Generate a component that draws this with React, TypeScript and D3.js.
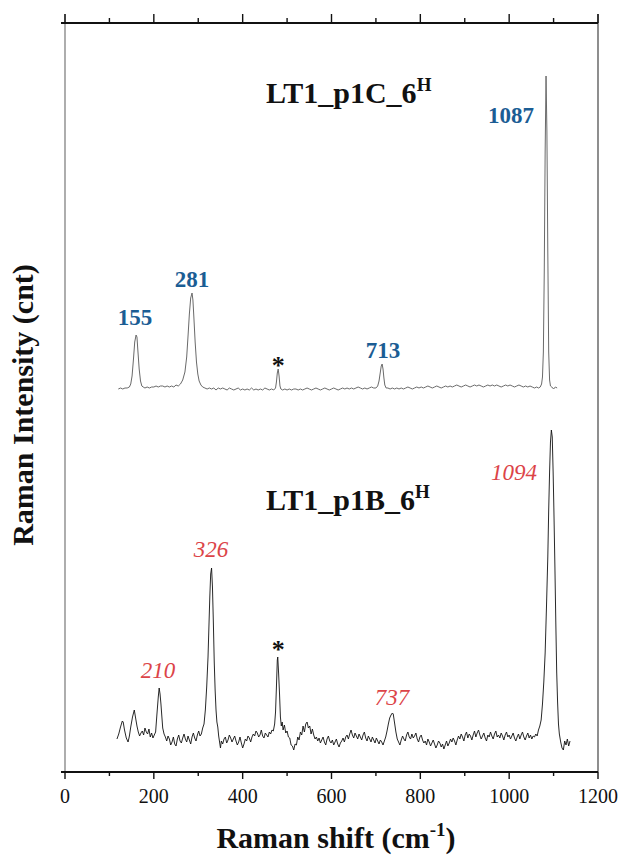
import React from "react";
import * as d3 from "d3";

// ---------- data ----------
const majorTicks = [0, 200, 400, 600, 800, 1000, 1200];
const minorTicks = [100, 300, 500, 700, 900, 1100];

// Top spectrum: LT1_p1C_6H (arbitrary intensity, offset)
const topShift = [120,125,130,135,140,145,148,151,154,157,160,162,164,167,170,173,176,180,185,190,195,200,205,210,215,220,225,230,235,240,245,250,255,260,265,270,274,277,280,283,286,288,290,293,296,299,302,306,310,315,320,325,330,335,340,345,350,355,360,365,370,375,380,385,390,395,400,405,410,415,420,425,430,435,440,445,450,455,460,465,470,474,476,478,480,482,484,486,490,495,500,505,510,515,520,525,530,535,540,545,550,555,560,565,570,575,580,585,590,595,600,605,610,615,620,625,630,635,640,645,650,655,660,665,670,675,680,685,690,695,700,704,707,710,712,714,716,718,720,723,727,732,737,742,747,752,757,762,767,772,777,782,787,792,797,802,807,812,817,822,827,832,837,842,847,852,857,862,867,872,877,882,887,892,897,902,907,912,917,922,927,932,937,942,947,952,957,962,967,972,977,982,987,992,997,1002,1007,1012,1017,1022,1027,1032,1037,1042,1047,1052,1057,1062,1066,1070,1073,1075,1077,1079,1081,1083,1085,1087,1089,1091,1093,1096,1100,1104,1108];
const topIntensity = [383,384,383,384,384,385,388,396,412,430,437,435,422,403,391,386,385,384,385,384,385,385,386,385,386,386,385,386,385,386,385,387,386,388,392,400,415,436,458,474,479,472,456,430,410,398,391,387,385,384,383,384,383,384,382,384,383,384,383,382,384,383,382,383,384,382,383,382,383,382,384,382,383,382,383,382,384,383,382,383,382,384,390,399,403,396,386,383,382,383,382,383,382,383,383,382,383,382,383,384,383,382,383,384,383,382,383,384,383,382,383,384,383,382,383,384,383,384,383,384,383,384,385,384,383,384,383,384,385,384,384,386,391,400,406,408,403,394,387,384,384,383,384,383,384,383,384,383,384,385,384,383,384,385,384,385,384,385,386,385,384,385,386,385,384,385,386,385,386,385,386,387,386,385,386,387,386,385,386,387,386,387,386,385,386,387,386,387,386,387,386,385,386,387,386,387,386,385,386,387,386,385,386,385,386,385,384,385,384,385,388,395,420,500,620,696,640,520,420,392,386,385,383,385,384];

// Bottom spectrum: LT1_p1B_6H
const bottomShift = [117,121,125,129,131,134,138,142,145,148,152,156,159,162,165,168,171,174,177,180,183,186,189,192,195,198,201,204,207,210,212,214,216,218,220,223,226,229,232,235,238,241,244,247,250,253,256,259,262,265,268,271,274,277,280,283,286,289,292,295,298,301,304,307,310,313,316,319,322,324,326,328,330,332,334,336,338,340,342,344,346,348,350,352,355,358,361,364,367,370,373,376,379,382,385,388,391,394,397,400,403,406,409,412,415,418,421,424,427,430,433,436,439,442,445,448,451,454,457,460,463,466,469,472,474,476,478,479,481,483,485,487,489,491,494,497,500,503,506,509,512,515,518,521,524,527,530,533,536,539,542,545,548,551,554,557,560,563,566,569,572,575,578,581,584,587,590,593,596,599,602,605,608,611,614,617,620,623,626,629,632,635,638,641,644,647,650,653,656,659,662,665,668,671,674,677,680,683,686,689,692,695,698,701,704,707,710,713,716,719,722,725,728,731,734,737,739,741,743,745,748,751,754,757,760,763,766,769,772,775,778,781,784,787,790,793,796,799,802,805,808,811,814,817,820,823,826,829,832,835,838,841,844,847,850,853,856,859,862,865,868,871,874,877,880,883,886,889,892,895,898,901,904,907,910,913,916,919,922,925,928,931,934,937,940,943,946,949,952,955,958,961,964,967,970,973,976,979,982,985,988,991,994,997,1000,1003,1006,1009,1012,1015,1018,1021,1024,1027,1030,1033,1036,1039,1042,1045,1048,1051,1054,1057,1060,1063,1066,1069,1072,1075,1078,1081,1084,1087,1089,1091,1093,1095,1097,1099,1101,1103,1105,1107,1109,1111,1113,1116,1119,1122,1125,1128,1131,1134,1137];
const bottomIntensity = [
  33,38,45,51,50,42,34,30,36,45,55,62,54,46,
  40,36,39,41,37,44,40,38,43,35,39,34,37,40,
  58,75,84,78,68,56,44,
  38,35,31,36,33,27,30,35,28,26,33,37,31,29,34,38,33,30,36,32,28,35,39,34,31,37,41,36,38,44,48,
  62,85,115,145,175,198,204,185,150,110,82,62,50,45,36,30,24,
  31,28,33,35,29,32,37,34,30,33,36,31,27,30,35,29,24,28,33,31,36,34,30,35,38,36,41,39,35,37,42,36,34,39,37,35,40,38,42,41,
  48,60,85,112,115,98,78,55,46,
  50,42,47,39,41,35,34,27,26,22,28,27,35,32,40,37,46,40,48,50,44,46,38,43,
  37,33,35,31,34,29,32,35,30,27,33,36,31,29,32,27,30,33,28,25,29,
  31,34,30,35,37,33,38,42,37,34,39,36,33,38,35,32,37,40,34,31,36,33,30,35,32,29,34,31,28,32,30,27,31,35,
  41,48,54,57,59,58,52,46,40,
  33,30,27,32,36,33,31,37,40,35,33,38,34,36,39,33,30,35,37,32,29,
  31,27,33,30,26,29,32,28,24,27,31,29,25,28,23,27,31,26,29,33,30,
  34,31,27,32,36,33,38,35,31,37,40,34,38,36,32,37,41,35,39,42,37,
  33,36,39,34,31,37,35,40,36,33,38,41,35,37,34,39,36,32,37,40,35,
  37,33,36,39,34,31,35,38,33,37,40,35,32,36,39,34,37,33,36,35,38,
  36,42,46,52,68,90,119,165,215,
  262,300,330,342,335,300,255,205,150,100,70,48,38,
  30,24,22,31,27,33,26,31
];

const topLabels = ["155", "281", "713", "1087"];
const bottomLabels = ["210", "326", "737", "1094"];

// ---------- layout ----------
const W = 619, H = 859;
const left = 65, right = 598, top = 23, bottom = 772;

export default function App() {
  const x = d3.scaleLinear().domain([0, 1200]).range([left, right]);
  const y = d3.scaleLinear().domain([0, 749]).range([bottom, top]);

  const line = d3.line<[number, number]>().x(d => x(d[0])).y(d => y(d[1]));
  const topPath = line(topShift.map((s, i) => [s, topIntensity[i]] as [number, number])) || "";
  const botPath = line(bottomShift.map((s, i) => [s, bottomIntensity[i]] as [number, number])) || "";

  const serif = "'Liberation Serif', 'Times New Roman', serif";
  const blue = "#1b5d94";
  const red = "#dc4448";

  // label anchor positions (px) for peak labels
  const topLabelPos = [[135, 325], [192, 287], [383, 358], [511, 123]];
  const botLabelPos = [[158, 678], [211, 557], [392, 705], [514, 480]];

  return (
    <svg width={W} height={H} style={{ position: "absolute", left: 0, top: 0, background: "#fff" }}
      fontFamily={serif}>
      <rect x={0} y={0} width={W} height={H} fill="#fff" />
      {/* frame sides */}
      <line x1={left} x2={left} y1={top - 9} y2={bottom} stroke="#777" strokeWidth={1.2} />
      <line x1={right} x2={right} y1={top - 9} y2={bottom} stroke="#444" strokeWidth={1.2} />
      {/* top axis */}
      <line x1={left - 4} x2={right} y1={top} y2={top} stroke="#111" strokeWidth={1.8} />
      {majorTicks.map(t => (
        <line key={"tM" + t} x1={x(t)} x2={x(t)} y1={top} y2={top - 9} stroke="#111" strokeWidth={1.4} />
      ))}
      {minorTicks.map(t => (
        <line key={"tm" + t} x1={x(t)} x2={x(t)} y1={top} y2={top - 5} stroke="#111" strokeWidth={1.4} />
      ))}
      {/* bottom axis */}
      <line x1={left - 4} x2={right} y1={bottom} y2={bottom} stroke="#111" strokeWidth={1.8} />
      {majorTicks.map(t => (
        <line key={"bM" + t} x1={x(t)} x2={x(t)} y1={bottom} y2={bottom + 7} stroke="#111" strokeWidth={1.4} />
      ))}
      {minorTicks.map(t => (
        <line key={"bm" + t} x1={x(t)} x2={x(t)} y1={bottom} y2={bottom + 4} stroke="#111" strokeWidth={1.4} />
      ))}
      {majorTicks.map(t => (
        <text key={"lbl" + t} x={x(t)} y={803} fontSize={20} textAnchor="middle" fill="#111">{t}</text>
      ))}

      {/* spectra */}
      <path d={topPath} fill="none" stroke="#6a6a6a" strokeWidth={1} />
      <path d={botPath} fill="none" stroke="#111" strokeWidth={0.9} />

      {/* sample titles */}
      <text x={266} y={103} fontSize={30} fontWeight="bold" fill="#111">
        LT1_p1C_6<tspan fontSize={19} dy={-12}>H</tspan>
      </text>
      <text x={266} y={510} fontSize={30} fontWeight="bold" fill="#111">
        LT1_p1B_6<tspan fontSize={19} dy={-12}>H</tspan>
      </text>

      {/* peak labels */}
      {topLabels.map((l, i) => (
        <text key={"tl" + l} x={topLabelPos[i][0]} y={topLabelPos[i][1]} fontSize={23} fontWeight="bold"
          textAnchor="middle" fill={blue}>{l}</text>
      ))}
      {bottomLabels.map((l, i) => (
        <text key={"bl" + l} x={botLabelPos[i][0]} y={botLabelPos[i][1]} fontSize={23} fontStyle="italic"
          textAnchor="middle" fill={red}>{l}</text>
      ))}
      {/* asterisks */}
      <text x={x(480)} y={374} fontSize={26} fontWeight="bold" textAnchor="middle" fill="#111">*</text>
      <text x={x(480)} y={658} fontSize={26} fontWeight="bold" textAnchor="middle" fill="#111">*</text>

      {/* axis titles */}
      <text x={336} y={848} fontSize={30} fontWeight="bold" textAnchor="middle" fill="#111">
        Raman shift (cm<tspan fontSize={19} dy={-12}>-1</tspan><tspan dy={12}>)</tspan>
      </text>
      <text transform={`translate(33, 405) rotate(-90)`} fontSize={30} fontWeight="bold" textAnchor="middle" fill="#111">
        Raman Intensity (cnt)
      </text>
    </svg>
  );
}
